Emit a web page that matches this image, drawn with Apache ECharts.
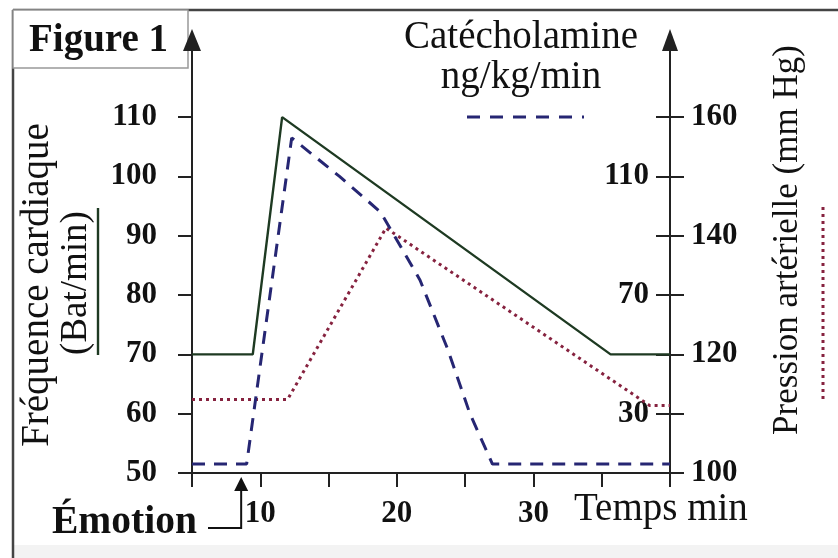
<!DOCTYPE html>
<html>
<head>
<meta charset="utf-8">
<script src="https://cdn.jsdelivr.net/npm/echarts@6/dist/echarts.min.js"></script>
<style>
html,body{margin:0;padding:0;background:#fff;}
#chart{width:838px;height:558px;}
</style>
</head>
<body>
<div id="chart"></div>
<script>
// ---- data ----
const timeHR = [5, 9.45, 11.6, 35.65, 40];
const heartRate = [70, 70, 110, 70, 70];

const timeCat = [5, 9.0, 12.3, 15.8, 18.8, 20.2, 21.7, 23.7, 25.35, 27.0, 40];
const catecholamine = [13, 13, 123, 110, 98, 87, 75, 52, 30, 13, 13];

const timePress = [5, 12, 19.2, 38.5, 40];
const pressure = [112.4, 112.4, 141.3, 111.4, 111.4];

const xTicks = [5, 10, 15, 20, 25, 30, 35, 40];
const xLabels = [10, 20, 30];
const hrTicks = [50, 60, 70, 80, 90, 100, 110];
const catTicks = [10, 30, 50, 70, 90, 110, 130];
const catLabels = [30, 70, 110];
const pressTicks = [100, 110, 120, 130, 140, 150, 160];
const pressLabels = [100, 120, 140, 160];
const emotionTime = 8.6;

const FONT = 'Liberation Serif, Times New Roman, serif';
const AX = '#222';
const C_HR = '#1e3a22';
const C_CAT = '#262673';
const C_P = '#86223f';

function zip(a, b) { return a.map((v, i) => [v, b[i]]); }

const chart = echarts.init(document.getElementById('chart'));

const tickLabel = { fontFamily: FONT, fontWeight: 'bold', fontSize: 31, color: '#111' };

const option = {
  animation: false,
  backgroundColor: '#fff',
  grid: { left: 192, right: 168, top: 40, bottom: 85, containLabel: false, outerBoundsMode: 'none' },
  xAxis: {
    type: 'value', min: 5, max: 40,
    axisLine: { show: true, lineStyle: { color: AX, width: 2 } },
    axisTick: { show: true, length: 14, lineStyle: { color: AX, width: 2 }, customValues: xTicks },
    axisLabel: Object.assign({ customValues: xLabels, margin: 25 }, tickLabel),
    splitLine: { show: false }
  },
  yAxis: [
    {
      type: 'value', min: 50, max: 123, position: 'left',
      axisLine: { show: true, symbol: ['none', 'triangle'], symbolSize: [18, 22], lineStyle: { color: AX, width: 2 } },
      axisTick: { show: true, length: 14, lineStyle: { color: AX, width: 2 }, customValues: hrTicks },
      axisLabel: Object.assign({ customValues: hrTicks, margin: 35 }, tickLabel),
      splitLine: { show: false }
    },
    {
      type: 'value', min: 10, max: 156, position: 'right',
      axisLine: { show: true, symbol: ['none', 'triangle'], symbolSize: [16, 22], lineStyle: { color: AX, width: 2 } },
      axisTick: { show: true, inside: true, length: 14, lineStyle: { color: AX, width: 2 }, customValues: catTicks },
      axisLabel: Object.assign({ customValues: catLabels, inside: true, margin: 21 }, tickLabel),
      splitLine: { show: false }
    },
    {
      type: 'value', min: 100, max: 173, position: 'right',
      axisLine: { show: false },
      axisTick: { show: true, length: 14, lineStyle: { color: AX, width: 2 }, customValues: pressTicks },
      axisLabel: Object.assign({ customValues: pressLabels, margin: 21 }, tickLabel),
      splitLine: { show: false }
    }
  ],
  series: [
    {
      name: 'Fréquence cardiaque', type: 'line', yAxisIndex: 0,
      data: zip(timeHR, heartRate), showSymbol: false, silent: true,
      lineStyle: { color: C_HR, width: 2.4 }, z: 3
    },
    {
      name: 'Catécholamine', type: 'line', yAxisIndex: 1,
      data: zip(timeCat, catecholamine), showSymbol: false, silent: true,
      lineStyle: { color: C_CAT, width: 3, type: [13, 9] }, z: 4
    },
    {
      name: 'Pression artérielle', type: 'line', yAxisIndex: 2,
      data: zip(timePress, pressure), showSymbol: false, silent: true,
      lineStyle: { color: C_P, width: 3, type: [3, 4] }, z: 2
    }
  ]
};
chart.setOption(option);

const ex = chart.convertToPixel({ xAxisIndex: 0 }, emotionTime);
const ay = chart.convertToPixel({ yAxisIndex: 0 }, 50);

function txt(x, y, s, size, weight, extra) {
  return Object.assign({
    type: 'text', x: x, y: y,
    style: { text: s, fontFamily: FONT, fontSize: size, fontWeight: weight || 'normal', fill: '#111', align: 'left', verticalAlign: 'middle' }
  }, extra || {});
}

chart.setOption({
  graphic: [
    { type: 'rect', shape: { x: 14, y: 545, width: 824, height: 13 }, style: { fill: '#f3f3f3' }, z: -1 },
    { type: 'line', shape: { x1: 13, y1: 10, x2: 838, y2: 10 }, style: { stroke: '#444', lineWidth: 2.5 } },
    { type: 'line', shape: { x1: 13, y1: 10, x2: 13, y2: 558 }, style: { stroke: '#444', lineWidth: 2.5 } },
    { type: 'rect', shape: { x: 13, y: 10, width: 175, height: 58 }, style: { fill: '#fff', stroke: '#999', lineWidth: 1.5 } },
    txt(29, 41, 'Figure 1', 39, 'bold'),
    { type: 'text', x: 521, y: 38, style: { text: 'Catécholamine', fontFamily: FONT, fontSize: 39, fill: '#111', align: 'center', verticalAlign: 'middle' } },
    { type: 'text', x: 521, y: 78, style: { text: 'ng/kg/min', fontFamily: FONT, fontSize: 39, fill: '#111', align: 'center', verticalAlign: 'middle' } },
    { type: 'line', shape: { x1: 467, y1: 117, x2: 584, y2: 117 }, style: { stroke: C_CAT, lineWidth: 3, lineDash: [13, 10] } },
    { type: 'text', x: 38, y: 285, rotation: Math.PI / 2, style: { text: 'Fréquence cardiaque', fontFamily: FONT, fontSize: 39, fill: '#111', align: 'center', verticalAlign: 'middle' } },
    { type: 'text', x: 76, y: 283, rotation: Math.PI / 2, style: { text: '(Bat/min)', fontFamily: FONT, fontSize: 37, fill: '#111', align: 'center', verticalAlign: 'middle' } },
    { type: 'line', shape: { x1: 98, y1: 208, x2: 98, y2: 355 }, style: { stroke: C_HR, lineWidth: 2.4 } },
    { type: 'text', x: 788, y: 240, rotation: Math.PI / 2, style: { text: 'Pression artérielle (mm Hg)', fontFamily: FONT, fontSize: 35, fill: '#111', align: 'center', verticalAlign: 'middle' } },
    { type: 'line', shape: { x1: 823, y1: 207, x2: 823, y2: 403 }, style: { stroke: C_P, lineWidth: 3, lineDash: [3, 4] } },
    txt(574, 510, 'Temps min', 39, 'normal'),
    txt(52, 523, 'Émotion', 39.5, 'bold'),
    { type: 'polyline', shape: { points: [[208, 528], [ex, 528], [ex, ay + 16]] }, style: { stroke: '#111', lineWidth: 2, fill: null } },
    { type: 'polygon', shape: { points: [[ex, ay + 4], [ex - 7, ay + 18], [ex + 7, ay + 18]] }, style: { fill: '#111' } }
  ]
});
</script>
</body>
</html>
